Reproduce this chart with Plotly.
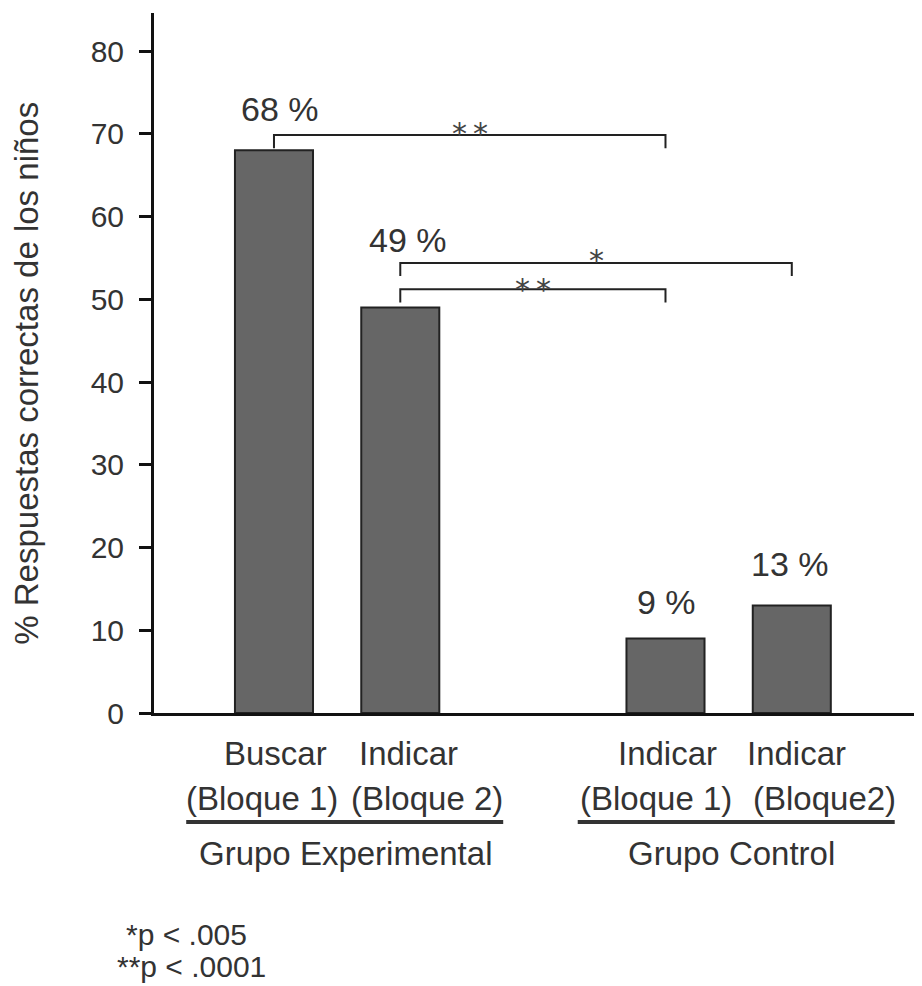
import plotly.graph_objects as go

# ---- data ----
categories_line1 = ["Buscar", "Indicar", "Indicar", "Indicar"]
categories_line2 = ["(Bloque 1)", "(Bloque 2)", "(Bloque 1)", "(Bloque2)"]
groups = ["Grupo Experimental", "Grupo Control"]
values = [68, 49, 9, 13]
value_labels = ["68 %", "49 %", "9 %", "13 %"]
y_ticks = [0, 10, 20, 30, 40, 50, 60, 70, 80]
# significance brackets: (bar i, bar j, label)
brackets = [(0, 2, "*\u2009*"), (1, 3, "*"), (1, 2, "*\u2009*")]
footnotes = ["*p < .005", "**p < .0001"]
y_title = "% Respuestas correctas de los niños"

# ---- layout constants ----
pos = [0, 1, 3.1, 4.1]
bar_w = 0.618
bracket_levels = [69.85, 54.4, 51.2]
bracket_tick = 1.6
bracket_lbl_shift = [2, 2, 0]
pct_yshift = [20, 47, 15.5, 20]
pct_xshift = [6, 8, 1, -2]
l1_xshift = [2, 8, 2, 5]
l2_xshift = [-12, 27, -9, 33]
group_members = [(0, 1), (2, 3)]
group_xshift = [8, 3]
FONT = "Liberation Sans, Arial, sans-serif"
TXT = "#333333"
AX = "#111111"

fig = go.Figure(go.Bar(
    x=pos, y=values, width=bar_w,
    marker=dict(color="#666666", line=dict(color="#222222", width=2)),
    hoverinfo="skip",
))

ann = []
shapes = []

# value labels
for i, (p, v, t) in enumerate(zip(pos, values, value_labels)):
    ann.append(dict(x=p, y=v, xref="x", yref="y", text=t, showarrow=False,
                    xanchor="center", yanchor="bottom", yshift=pct_yshift[i],
                    xshift=pct_xshift[i], font=dict(family=FONT, size=34, color=TXT)))

# brackets
for k, (i, j, lbl) in enumerate(brackets):
    lv = bracket_levels[k]
    xi, xj = pos[i], pos[j]
    shapes.append(dict(type="path", xref="x", yref="y",
                       path=f"M {xi},{lv - bracket_tick} L {xi},{lv} L {xj},{lv} L {xj},{lv - bracket_tick}",
                       line=dict(color="#222222", width=2)))
    ann.append(dict(x=(xi + xj) / 2, y=lv, xref="x", yref="y", text=lbl, showarrow=False,
                    xanchor="center", yanchor="middle", yshift=bracket_lbl_shift[k],
                    font=dict(family="DejaVu Sans, sans-serif", size=30, color="#444444")))

# category labels
for i, p in enumerate(pos):
    ann.append(dict(x=p, y=-0.058, xref="x", yref="paper", text=categories_line1[i],
                    showarrow=False, xanchor="center", yanchor="middle", xshift=l1_xshift[i],
                    font=dict(family=FONT, size=33, color=TXT)))
    ann.append(dict(x=p, y=-0.1223, xref="x", yref="paper", text=categories_line2[i],
                    showarrow=False, xanchor="center", yanchor="middle", xshift=l2_xshift[i],
                    font=dict(family=FONT, size=33, color=TXT)))

# group labels + underlines
for g, (a, b) in enumerate(group_members):
    mid = (pos[a] + pos[b]) / 2
    ann.append(dict(x=mid, y=-0.2009, xref="x", yref="paper", text=groups[g],
                    showarrow=False, xanchor="center", yanchor="middle", xshift=group_xshift[g],
                    font=dict(family=FONT, size=33, color=TXT)))
    shapes.append(dict(type="line", xref="x", yref="paper",
                       x0=mid + 0.06 - 1.255, x1=mid + 0.06 + 1.255, y0=-0.1557, y1=-0.1557,
                       line=dict(color="#333333", width=4)))

# footnotes
ann.append(dict(x=0.0417, y=-0.3166, xref="paper", yref="paper", text=footnotes[0],
                showarrow=False, xanchor="center", yanchor="middle",
                font=dict(family=FONT, size=30, color=TXT)))
ann.append(dict(x=0.0482, y=-0.3623, xref="paper", yref="paper", text=footnotes[1],
                showarrow=False, xanchor="center", yanchor="middle",
                font=dict(family=FONT, size=30, color=TXT)))

# y title
ann.append(dict(x=-0.1654, y=0.486, xref="paper", yref="paper", text=y_title,
                showarrow=False, textangle=-90, xanchor="center", yanchor="middle",
                font=dict(family=FONT, size=33, color=TXT)))

# page body has an 8px default margin: figure is sized to end at the window edges
fig.update_layout(
    width=914, height=978,
    margin=dict(l=146, r=0, t=5, b=273),
    paper_bgcolor="white", plot_bgcolor="white",
    showlegend=False,
    annotations=ann, shapes=shapes,
    xaxis=dict(range=[-0.950, 5.131], showticklabels=False, ticks="", showgrid=False,
               zeroline=False, showline=True, linewidth=3, linecolor=AX),
    yaxis=dict(range=[0, 84.6], tickvals=y_ticks, ticks="outside", ticklen=12, tickwidth=3,
               tickcolor=AX, showline=True, linewidth=3, linecolor=AX, showgrid=False,
               zeroline=False, ticklabelstandoff=9,
               tickfont=dict(family=FONT, size=30, color=TXT)),
)

fig.write_html("out.html")
